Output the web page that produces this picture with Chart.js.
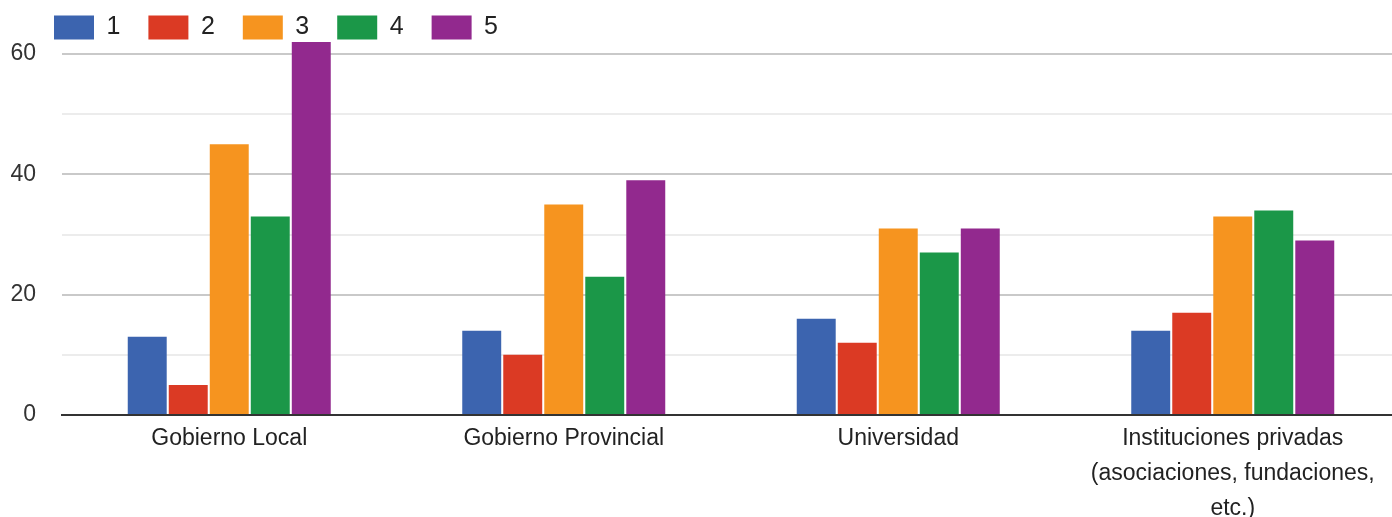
<!DOCTYPE html>
<html>
<head>
<meta charset="utf-8">
<script src="https://cdn.jsdelivr.net/npm/chart.js@4/dist/chart.umd.min.js"></script>
<style>
  html, body { margin: 0; padding: 0; background: #ffffff; overflow: hidden; }
  /* the plot is a little wider than the window and runs past its right edge */
  canvas { display: block; }
</style>
</head>
<body>
<canvas id="chart" width="1400" height="517"></canvas>
<script>
// Categories (multi-line label for the last one)
const categories = [
  'Gobierno Local',
  'Gobierno Provincial',
  'Universidad',
  ['Instituciones privadas', '(asociaciones, fundaciones,', 'etc.)']
];

// Answers per rating, one array per rating value
const rating1 = [13, 14, 16, 14];
const rating2 = [5, 10, 12, 17];
const rating3 = [45, 35, 31, 33];
const rating4 = [33, 23, 27, 34];
const rating5 = [62, 39, 31, 29];

const seriesNames = ['1', '2', '3', '4', '5'];
const seriesValues = [rating1, rating2, rating3, rating4, rating5];
const seriesColors = ['#3c64af', '#db3a24', '#f6941f', '#1b9748', '#92298e'];

// Gridline values on the value axis, and the ones that carry a label
const gridValues = [0, 10, 20, 30, 40, 50, 60];
const labelledTicks = [0, 20, 40, 60];

const FONT = '"Liberation Sans", Arial, sans-serif';

// Places the legend row at the top-left corner
const legendPlacement = {
  id: 'legendPlacement',
  beforeDraw(chart) {
    if (chart.legend) {
      chart.legend.left = 26;
      chart.legend.top = -13;
    }
  }
};

new Chart(document.getElementById('chart'), {
  type: 'bar',
  data: {
    labels: categories,
    datasets: seriesNames.map((name, i) => ({
      label: name,
      data: seriesValues[i],
      backgroundColor: seriesColors[i],
      borderWidth: 0,
      barPercentage: 0.95,
      categoryPercentage: 0.613
    }))
  },
  options: {
    responsive: false,
    animation: false,
    devicePixelRatio: 1,
    layout: { padding: { left: 10, right: 0, top: 0, bottom: 0 } },
    plugins: {
      legend: {
        position: 'top',
        align: 'start',
        maxHeight: 42,
        labels: {
          boxWidth: 40,
          boxHeight: 24,
          padding: 28,
          color: '#222',
          font: { family: FONT, size: 25 }
        }
      },
      tooltip: { enabled: false }
    },
    scales: {
      x: {
        afterFit(axis) { axis.height = 102; },
        grid: { display: false, drawTicks: false },
        border: { display: true, color: '#333', width: 2 },
        ticks: {
          color: '#222',
          padding: 6,
          maxRotation: 0,
          autoSkip: false,
          font: { family: FONT, size: 23, lineHeight: 1.52 }
        }
      },
      y: {
        min: 0,
        max: 62,
        afterFit(axis) { axis.width = 52; },
        afterBuildTicks(axis) {
          axis.ticks = gridValues.map(v => ({ value: v }));
        },
        grid: {
          drawTicks: false,
          color(ctx) {
            const v = ctx.tick ? ctx.tick.value : 0;
            if (v === 0) return 'rgba(0,0,0,0)';
            return v % 20 === 0 ? '#c9c9c9' : '#ececec';
          },
          lineWidth: 2
        },
        border: { display: false },
        ticks: {
          padding: 26,
          color: '#333',
          font: { family: FONT, size: 23 },
          callback(value) {
            return labelledTicks.includes(value) ? String(value) : '';
          }
        }
      }
    }
  },
  plugins: [legendPlacement]
});
</script>
</body>
</html>
